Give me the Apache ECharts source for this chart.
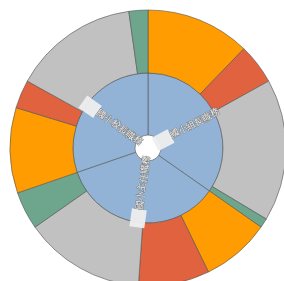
<!DOCTYPE html>
<html><head><meta charset="utf-8">
<script src="https://cdn.jsdelivr.net/npm/echarts@6/dist/echarts.min.js"></script>
<style>html,body{margin:0;padding:0;background:#fff}#c{width:284px;height:281px}</style>
</head><body><div id="c"></div>
<script>
var groups = ['國小組長職務', '國小主任職務', '國小校長職務'];
var subNames = ['甲', '乙', '丙', '丁'];
var subColors = ['#FE9C01', '#E0623F', '#C1C1C1', '#6DA68C'];
var values = [
  [44, 17, 60, 4],
  [29, 30, 51, 16],
  [36, 12, 53, 8]
];
var data = groups.map(function (g, i) {
  return {
    name: g,
    itemStyle: { color: '#92B3D6' },
    children: subNames.map(function (s, j) {
      return { name: s, value: values[i][j], itemStyle: { color: subColors[j] } };
    })
  };
});
var chart = echarts.init(document.getElementById('c'));
chart.setOption({
  animation: false,
  series: [{
    type: 'sunburst',
    center: [148, 148],
    sort: null,
    nodeClick: false,
    data: data,
    itemStyle: { borderColor: '#555', borderWidth: 0.6 },
    levels: [
      {},
      {
        r0: 13, r: 75,
        label: {
          show: true,
          rotate: 'radial',
          fontSize: 9,
          color: '#f4f4f4',
          textBorderColor: '#777',
          textBorderWidth: 1,
          formatter: function (p) { return '{box|}{t|' + p.name + '}'; },
          rich: {
            box: { width: 18, height: 15, backgroundColor: 'rgba(238,238,238,0.95)' },
            t: { fontSize: 9, color: '#f4f4f4', textBorderColor: '#777', textBorderWidth: 1 }
          }
        }
      },
      {
        r0: 75, r: 138,
        label: { show: false }
      }
    ]
  }]
});
</script>
</body></html>
